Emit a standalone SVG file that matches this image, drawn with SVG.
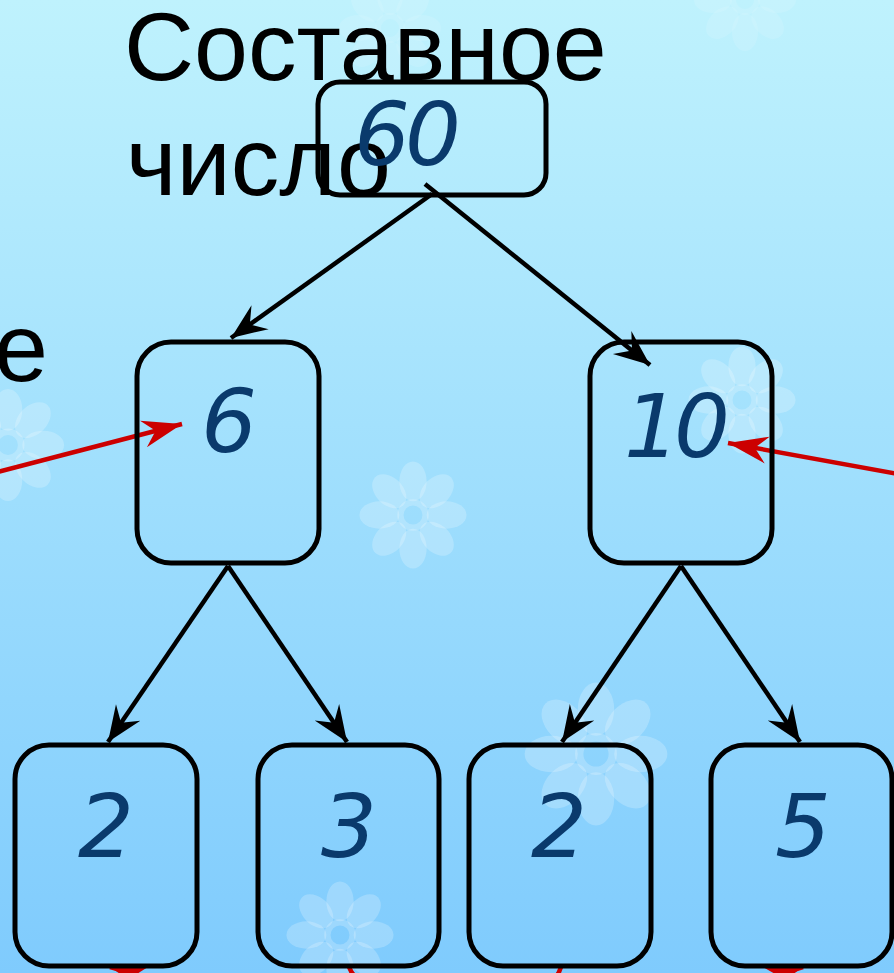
<svg xmlns="http://www.w3.org/2000/svg" xmlns:xlink="http://www.w3.org/1999/xlink" width="894" height="973" viewBox="0 0 894 973">
<style>
.lbl{font-family:"Liberation Sans",Arial,sans-serif;font-size:97px;fill:#000}
.num{font-family:"DejaVu Sans",Verdana,sans-serif;font-style:italic;font-size:88px;fill:#0a3a6c;text-anchor:middle}
.box{fill:none;stroke:#000;stroke-width:5}
.blk{stroke:#000;stroke-width:4.5;fill:none;marker-end:url(#ab)}
.red{stroke:#cc0000;stroke-width:4.5;fill:none;marker-end:url(#ar)}
.petal{fill:#ffffff;fill-opacity:0.22}
</style>
<defs>
<linearGradient id="bg" x1="0" y1="0" x2="0" y2="1">
<stop offset="0" stop-color="#bff2fd"/>
<stop offset="1" stop-color="#7fcbfd"/>
</linearGradient>
<marker id="ab" markerUnits="userSpaceOnUse" markerWidth="40" markerHeight="40" viewBox="-36 -16 38 32" refX="0" refY="0" orient="auto">
<path d="M0,0 L-34,-14 L-22,0 L-34,14 Z" fill="#000"/>
</marker>
<marker id="ar" markerUnits="userSpaceOnUse" markerWidth="44" markerHeight="40" viewBox="-40 -16 42 32" refX="0" refY="0" orient="auto">
<path d="M0,0 L-38,-13 L-26,0 L-38,13 Z" fill="#cc0000"/>
</marker>
<g id="flower">
<ellipse class="petal" cx="0" cy="-32" rx="13" ry="19"/>
<ellipse class="petal" cx="0" cy="-32" rx="13" ry="19" transform="rotate(45)"/>
<ellipse class="petal" cx="0" cy="-32" rx="13" ry="19" transform="rotate(90)"/>
<ellipse class="petal" cx="0" cy="-32" rx="13" ry="19" transform="rotate(135)"/>
<ellipse class="petal" cx="0" cy="-32" rx="13" ry="19" transform="rotate(180)"/>
<ellipse class="petal" cx="0" cy="-32" rx="13" ry="19" transform="rotate(225)"/>
<ellipse class="petal" cx="0" cy="-32" rx="13" ry="19" transform="rotate(270)"/>
<ellipse class="petal" cx="0" cy="-32" rx="13" ry="19" transform="rotate(315)"/>
<circle cx="0" cy="0" r="12" fill="none" stroke="#ffffff" stroke-opacity="0.22" stroke-width="6"/>
</g>
</defs>
<rect x="0" y="0" width="894" height="973" fill="url(#bg)"/>
<g id="flowers">
<use xlink:href="#flower" transform="translate(413,515) scale(1.05)"/>
<use xlink:href="#flower" transform="translate(742,400) scale(1.05)"/>
<use xlink:href="#flower" transform="translate(596,754) scale(1.4)"/>
<use xlink:href="#flower" transform="translate(340,935) scale(1.05)"/>
<use xlink:href="#flower" transform="translate(8,445) scale(1.1)"/>
<use xlink:href="#flower" transform="translate(390,28) scale(1.0)" opacity="0.5"/>
<use xlink:href="#flower" transform="translate(745,0) scale(1.0)" opacity="0.5"/>
</g>
<g id="labels">
<text class="lbl" x="124" y="80">Составное</text>
<text class="lbl" x="126" y="195">число</text>
<text class="lbl" x="-6" y="381">е</text>
</g>
<g id="connectors">
<path class="blk" d="M432,194 L231,338"/>
<path class="blk" d="M425,184 L650,365"/>
<path class="blk" d="M228,566 L108,742"/>
<path class="blk" d="M228,566 L347,742"/>
<path class="blk" d="M681,566 L562,742"/>
<path class="blk" d="M681,566 L800,742"/>
<path class="red" d="M-10,474 L182,424"/>
<path class="red" d="M904,475 L728,443"/>
<path class="red" d="M300,1020 L110,967"/>
<path class="red" d="M400,1070 L349,967"/>
<path class="red" d="M520,1070 L561,967"/>
<path class="red" d="M600,1030 L803,967"/>
</g>
<g id="n60"><rect class="box" x="318" y="82" width="228" height="113" rx="22"/><text class="num" x="405" y="165" letter-spacing="-5">60</text></g>
<g id="n6"><rect class="box" x="137" y="342" width="182" height="221" rx="34"/><text class="num" x="229" y="452">6</text></g>
<g id="n10"><rect class="box" x="590" y="342" width="182" height="221" rx="34"/><text class="num" x="674" y="457" letter-spacing="-6">10</text></g>
<g id="n2a"><rect class="box" x="15" y="745" width="182" height="221" rx="34"/><text class="num" x="106" y="857">2</text></g>
<g id="n3"><rect class="box" x="258" y="745" width="181" height="221" rx="34"/><text class="num" x="349" y="857">3</text></g>
<g id="n2b"><rect class="box" x="469" y="745" width="182" height="221" rx="34"/><text class="num" x="559" y="857">2</text></g>
<g id="n5"><rect class="box" x="711" y="745" width="181" height="221" rx="34"/><text class="num" x="803" y="857">5</text></g>
</svg>
